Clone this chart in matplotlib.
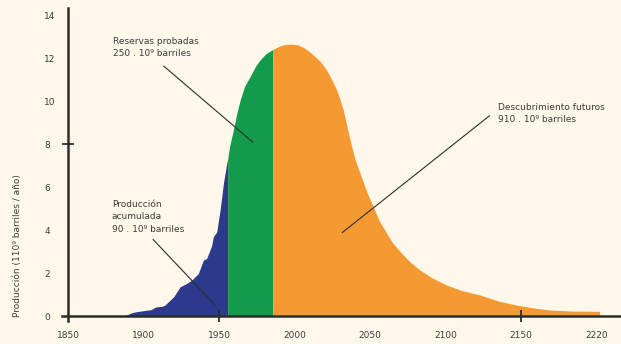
import matplotlib.pyplot as plt

# Produccion acumulada (azul)
blue_years = [1885, 1889, 1892, 1895, 1900, 1905, 1908, 1912, 1914, 1917, 1920, 1924.2, 1928.6,
              1931.9, 1936.3, 1939.6, 1941.8, 1944, 1945.2, 1946.2, 1948.5, 1949.5, 1950.7,
              1952.9, 1955.1, 1955.7]
blue_vals = [0, 0.05, 0.15, 0.2, 0.25, 0.3, 0.42, 0.45, 0.5, 0.7, 0.9, 1.36, 1.52,
             1.67, 1.98, 2.6, 2.68, 3.07, 3.3, 3.69, 3.92, 4.39, 4.93,
             6.17, 7.1, 7.3]

# Reservas probadas (verde)
green_years = [1955.7, 1957, 1959.5, 1962, 1964, 1967, 1970.5, 1974, 1977, 1981, 1985.5]
green_vals = [7.3, 7.9, 8.65, 9.5, 10.05, 10.7, 11.13, 11.6, 11.9, 12.2, 12.4]

# Descubrimientos futuros (naranja)
orange_years = [1985.5, 1990.4, 1994, 1998, 2002, 2005.8, 2009, 2012.5, 2017, 2021.3, 2025,
                2028, 2030, 2032.3, 2034.5, 2036.8, 2040, 2043.4, 2048, 2052.2, 2056, 2061,
                2065, 2070, 2076, 2083, 2091, 2100.8, 2110, 2122.8, 2135, 2147, 2158, 2169,
                2185, 2202]
orange_vals = [12.4, 12.57, 12.64, 12.65, 12.62, 12.5, 12.35, 12.14, 11.85, 11.44, 10.95,
               10.5, 10.1, 9.58, 8.9, 8.19, 7.3, 6.64, 5.75, 5.08, 4.45, 3.85,
               3.4, 2.99, 2.55, 2.14, 1.78, 1.44, 1.2, 0.98, 0.7, 0.51, 0.38, 0.28,
               0.23, 0.22]

x_ticks = [1850, 1900, 1950, 2000, 2050, 2100, 2150, 2200]
x_labels = ['1850', '1900', '1950', '2000', '2050', '2100', '2150', '2220']
y_ticks = [0, 2, 4, 6, 8, 10, 12, 14]

bg = '#fef8ea'
txt = '#3c3c3c'

fig = plt.figure(figsize=(6.21, 3.44), dpi=100, facecolor=bg)
ax = fig.add_axes([62 / 621, 1 - 321 / 344, 559 / 621, 313 / 344])
ax.set_facecolor(bg)

ax.fill_between(blue_years, blue_vals, color='#2b3a8c', lw=0)
ax.fill_between(green_years, green_vals, color='#129b4a', lw=0)
ax.fill_between(orange_years, orange_vals, color='#f59a32', lw=0)

ax.set_xlim(1846, 2216.2)
ax.set_ylim(-0.23, 14.33)

for s in ['top', 'right']:
    ax.spines[s].set_visible(False)
ax.spines['left'].set_position(('data', 1850))
ax.spines['bottom'].set_position(('data', 0))
for s in ['left', 'bottom']:
    ax.spines[s].set_color('#2d2d2d')
    ax.spines[s].set_linewidth(1.8)
    ax.spines[s].set_zorder(5)

# only a few tick marks are drawn on the original
ax.xaxis.remove_overlapping_locs = False
ax.yaxis.remove_overlapping_locs = False
ax.set_xticks(x_ticks)
ax.set_xticklabels(x_labels)
ax.set_yticks(y_ticks)
ax.set_xticks([1950, 2150], minor=True)
ax.set_yticks([8], minor=True)
ax.tick_params(axis='both', which='major', length=0, labelsize=6.5, labelcolor=txt)
ax.tick_params(axis='x', which='major', pad=11)
ax.tick_params(axis='y', which='major', pad=17)
for lab in ax.get_yticklabels():
    lab.set_horizontalalignment('left')
ax.tick_params(axis='both', which='minor', length=9, width=1.3, direction='inout',
               color='#2d2d2d')

fig.text(18 / 621, 1 - 246 / 344, 'Producción (110⁹ barriles / año)', rotation=90,
         ha='center', va='center', fontsize=6.5, color=txt)

ax.text(1880, 12.5, 'Reservas probadas\n250 . 10⁹ barriles', ha='left', va='center',
        fontsize=6.5, color=txt, linespacing=1.5)
ax.annotate('', xy=(1973.8, 8.0), xytext=(1912.0, 11.71),
            arrowprops=dict(arrowstyle='-', color='#2d2d2d', lw=0.8))

ax.text(1879, 4.62, 'Producción\nacumulada\n90 . 10⁹ barriles', ha='left', va='center',
        fontsize=6.5, color=txt, linespacing=1.5)
ax.annotate('', xy=(1948.5, 0.43), xytext=(1905, 3.66),
            arrowprops=dict(arrowstyle='-', color='#2d2d2d', lw=0.8))

ax.text(2135, 9.43, 'Descubrimiento futuros\n910 . 10⁹ barriles', ha='left', va='center',
        fontsize=6.5, color=txt, linespacing=1.5)
ax.annotate('', xy=(2030.1, 3.8), xytext=(2130.6, 9.4),
            arrowprops=dict(arrowstyle='-', color='#2d2d2d', lw=0.8))

fig.savefig('out.png', dpi=100, facecolor=bg)
